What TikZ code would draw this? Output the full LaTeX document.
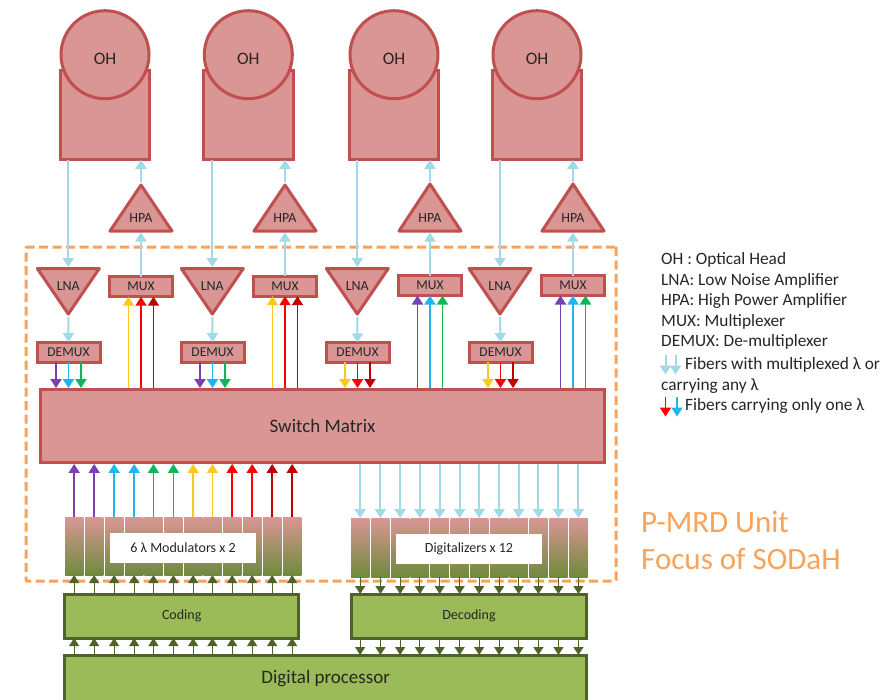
\documentclass[tikz,border=0pt]{standalone}
\usepackage{fontspec}
\setmainfont{Carlito}
\usetikzlibrary{arrows.meta}
\definecolor{unitfill}{HTML}{D99694}
\definecolor{unitline}{HTML}{C0504D}
\definecolor{greenfill}{HTML}{9BBB59}
\definecolor{greenline}{HTML}{4F6228}
\definecolor{barbottom}{HTML}{6F8A3C}
\definecolor{frameorange}{HTML}{F9A25A}
\definecolor{fibreblue}{HTML}{A3D8E6}
\definecolor{cpurple}{HTML}{7A3FB0}
\definecolor{cblue}{HTML}{1FB4F2}
\definecolor{cgreen}{HTML}{10B558}
\definecolor{cyellow}{HTML}{FFC81E}
\definecolor{cred}{HTML}{FF0000}
\definecolor{cdark}{HTML}{C00000}
\begin{document}
\begin{tikzpicture}[
    x=1pt, y=-1pt,
    >={Triangle[length=9pt,width=11pt]},
    font=\fontsize{14}{17}\selectfont,
    text=black!85,
    unit/.style={draw=unitline, fill=unitfill, line width=3pt},
    box/.style={unit, inner sep=0pt, outer sep=0pt, minimum width=63pt, minimum height=20pt},
    lbl/.style={inner sep=0pt},
    greenbox/.style={draw=greenline, fill=greenfill, line width=3pt, inner sep=0pt, outer sep=0pt},
    bar/.style={anchor=north west, inner sep=0pt, outer sep=0pt, minimum width=18.3pt,
      top color=unitfill, bottom color=barbottom},
    whitebox/.style={fill=white, inner sep=0pt, minimum width=146pt, minimum height=30pt},
    fibre/.style={line width=2pt, draw=fibreblue},
    lambda/.style={line width=1.8pt},
    small/.style={line width=1.2pt, draw=greenline, >={Triangle[length=8pt,width=10pt]}},
    legend/.style={anchor=west, inner sep=0pt, font=\fontsize{17.3}{20}\selectfont},
    title/.style={anchor=west, inner sep=0pt, text=frameorange, font=\fontsize{31}{36}\selectfont},
  ]
    \useasboundingbox (0,0) rectangle (885,699);

    \node[draw=frameorange, line width=3pt, dash pattern=on 9pt off 4.5pt, rounded corners=1pt,
      minimum width=590pt, minimum height=334pt, inner sep=0pt] (focus) at (321,414) {};

    \foreach \n/\x in {1/105, 2/248.3, 3/394, 4/537} {
      \node[unit, inner sep=0pt, outer sep=0pt, minimum width=89.5pt, minimum height=89.5pt] (ohbase\n) at (\x,115) {};
      \node[unit, circle, inner sep=0pt, outer sep=0pt, minimum size=88pt] (ohhead\n) at (\x,54.7) {};
      \node[lbl, font=\fontsize{17.5}{20}\selectfont] (ohtxt\n) at (\x,59) {OH};
    }

    \foreach \n/\x/\y in {1/141/185, 2/285/185, 3/430/184, 4/573/184} {
      \draw[unit, line join=round] (\x,\y) coordinate (hpatop\n) -- (\x+31,231) -- (\x-31,231) -- cycle;
      \coordinate (hpabase\n) at (\x,232.5);
      \coordinate (hpatip\n) at (\x,182);
      \node[lbl] (hpatxt\n) at (\x,218) {HPA};
    }

    \foreach \n/\x in {1/68.3, 2/212.3, 3/357.3, 4/500} {
      \draw[unit, line join=round] (\x-31,268.5) -- (\x+31,268.5) -- (\x,314) -- cycle;
      \coordinate (lnatop\n) at (\x,267);
      \coordinate (lnatip\n) at (\x,317);
      \node[lbl] (lnatxt\n) at (\x,286) {LNA};
    }

    \node[box, font=\fontsize{13.5}{16}\selectfont] (mux1) at (141,286.7) {MUX};
    \node[box, font=\fontsize{13.5}{16}\selectfont] (mux2) at (285,286.2) {MUX};
    \node[box, font=\fontsize{13.5}{16}\selectfont] (mux3) at (430,285.5) {MUX};
    \node[box, font=\fontsize{13.5}{16}\selectfont] (mux4) at (573,285.5) {MUX};
    \node[box, font=\fontsize{13.5}{16}\selectfont] (demux1) at (68.5,352) {DEMUX};
    \node[box, font=\fontsize{13.5}{16}\selectfont] (demux2) at (212.5,352) {DEMUX};
    \node[box, font=\fontsize{13.5}{16}\selectfont] (demux3) at (357.5,352.3) {DEMUX};
    \node[box, font=\fontsize{13.5}{16}\selectfont] (demux4) at (500.5,352) {DEMUX};

    \node[unit, inner sep=0pt, outer sep=1.2pt, minimum width=564pt, minimum height=73.5pt,
      font=\fontsize{19}{22}\selectfont] (sw) at (322.5,426) {Switch Matrix};

    \foreach \n in {1,...,4} {
      \draw[->, fibre] (lnatop\n |- ohbase\n.south) -- (lnatop\n);
      \draw[->, fibre] (lnatip\n) -- (demux\n.north);
      \draw[->, fibre] (mux\n.north) -- (hpabase\n);
      \draw[->, fibre] (hpatip\n) -- (hpatip\n |- ohbase\n.south);
    }

    \foreach \n/\ca/\cb/\cc in {1/cyellow/cred/cdark, 2/cyellow/cred/cdark, 3/cpurple/cblue/cgreen, 4/cpurple/cblue/cgreen}
      \foreach \dx/\col in {-12.5/\ca, 0/\cb, 12.5/\cc}
        \draw[->, lambda, draw=\col] ([xshift=\dx pt]mux\n.south |- sw.north) -- ([xshift=\dx pt]mux\n.south);

    \foreach \n/\ca/\cb/\cc in {1/cpurple/cblue/cgreen, 2/cpurple/cblue/cgreen, 3/cyellow/cred/cdark, 4/cyellow/cred/cdark}
      \foreach \dx/\col in {-12.5/\ca, 0/\cb, 12.5/\cc}
        \draw[->, lambda, draw=\col] ([xshift=\dx pt]demux\n.south) -- ([xshift=\dx pt]demux\n.south |- sw.north);

    \foreach \i/\x/\col in {1/65/cpurple, 2/85/cpurple, 3/105/cblue, 4/125/cblue, 5/144.3/cgreen, 6/164.3/cgreen,
        7/184/cyellow, 8/203.3/cyellow, 9/223/cred, 10/243/cred, 11/263/cdark, 12/283/cdark} {
      \node[bar, minimum height=58pt] (mod\i) at (\x,517) {};
      \draw[->, lambda, draw=\col] (mod\i.north) -- (mod\i.north |- sw.south);
    }
    \foreach \i/\x in {1/351, 2/371.3, 3/391, 4/410.7, 5/430.5, 6/450.5, 7/470, 8/490, 9/509.5, 10/529.3, 11/549.3, 12/569.3} {
      \node[bar, minimum height=59pt] (dig\i) at (\x,518) {};
      \draw[->, fibre] (dig\i.north |- sw.south) -- (dig\i.north);
    }
    \node[whitebox] (modtxt) at (183,548) {6 λ Modulators x 2};
    \node[whitebox] (digtxt) at (469,548.5) {Digitalizers x 12};

    \node[greenbox, minimum width=234pt, minimum height=44pt] (coding) at (181.7,616) {Coding};
    \node[greenbox, minimum width=235.5pt, minimum height=44pt] (decoding) at (469,616) {Decoding};
    \node[greenbox, minimum width=522.5pt, minimum height=60pt] (proc) at (325.7,685) {};
    \node[lbl, font=\fontsize{19}{22}\selectfont] (proctxt) at (325.7,679) {Digital processor};

    \foreach \i in {1,...,12} {
      \draw[->, small] (mod\i.south |- coding.north) -- (mod\i.south);
      \draw[->, small] (mod\i.south |- proc.north) -- (mod\i.south |- coding.south);
      \draw[->, small] (dig\i.south) -- (dig\i.south |- decoding.north);
      \draw[->, small] (dig\i.south |- decoding.south) -- (dig\i.south |- proc.north);
    }

    \node[title] (titlea) at (641,522) {P-MRD Unit};
    \node[title] (titleb) at (641,559) {Focus of SODaH};

    \node[legend] (lga) at (661,260) {OH : Optical Head};
    \node[legend] (lgb) at (661,281) {LNA: Low Noise Amplifier};
    \node[legend] (lgc) at (661,301) {HPA: High Power Amplifier};
    \node[legend] (lgd) at (661,322) {MUX: Multiplexer};
    \node[legend] (lge) at (661,342) {DEMUX: De-multiplexer};
    \node[legend] (lgf) at (685,365) {Fibers with multiplexed λ or};
    \node[legend] (lgg) at (661,386) {carrying any λ};
    \node[legend] (lgh) at (685,406) {Fibers carrying only one λ};

    \coordinate (lgfa) at (665.5,355);
    \coordinate (lgfb) at (675.5,355);
    \coordinate (lgha) at (665.5,397);
    \coordinate (lghb) at (677,397);
    \draw[->, fibre] (lgfa) -- ++(0,19.5);
    \draw[->, fibre] (lgfb) -- ++(0,19.5);
    \draw[->, lambda, draw=cred] (lgha) -- ++(0,19.5);
    \draw[->, lambda, draw=cblue] (lghb) -- ++(0,19.5);
  \end{tikzpicture}
\end{document}
